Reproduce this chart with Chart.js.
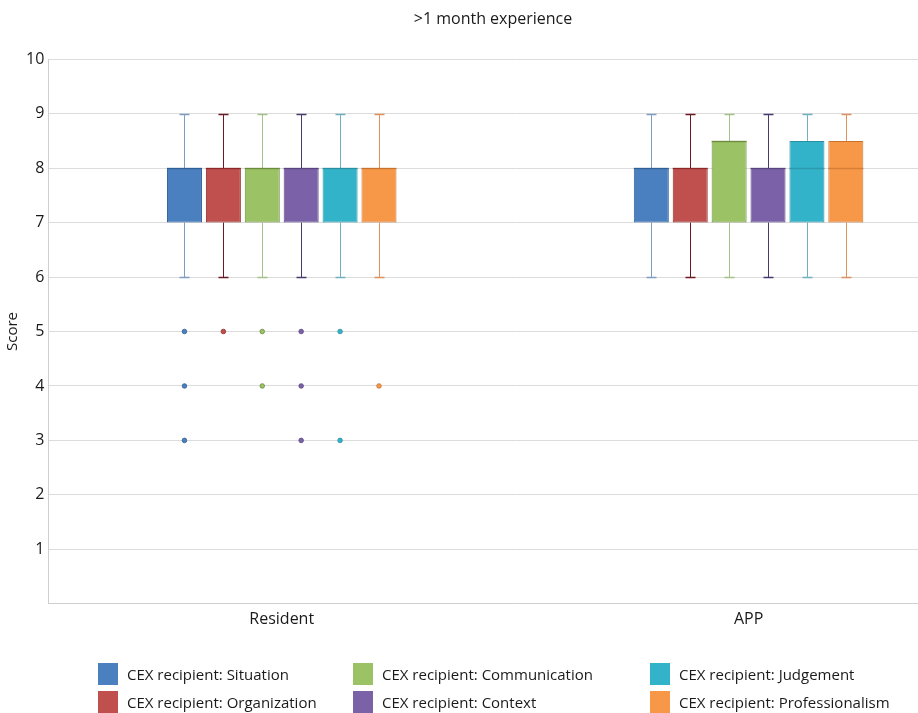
<!DOCTYPE html>
<html>
<head>
<meta charset="utf-8">
<script src="https://cdn.jsdelivr.net/npm/chart.js@4.4.1/dist/chart.umd.min.js"></script>
<style>
  html, body { margin: 0; padding: 0; background: #fff; overflow: hidden; }
  #wrap { position: relative; width: 918px; height: 713px; overflow: hidden; }
  #c { position: absolute; left: 0; top: 0; }
  .leg { position: absolute; font-family: "Open Sans", sans-serif; font-size: 15px; color: #1a1a1a; white-space: nowrap; }
  .leg span { position: absolute; left: 0; top: 0; width: 20px; height: 22px; }
  .leg b { font-weight: normal; position: absolute; left: 29px; top: 1px; }
</style>
</head>
<body>
<div id="wrap">
  <canvas id="c" width="985" height="713"></canvas>
  <div id="legend"></div>
</div>
<script>
const groups = ["Resident", "APP"];
const seriesNames = [
  "CEX recipient: Situation",
  "CEX recipient: Organization",
  "CEX recipient: Communication",
  "CEX recipient: Context",
  "CEX recipient: Judgement",
  "CEX recipient: Professionalism"
];
const fillColors = ["#4a7fc0", "#c0504d", "#9bc264", "#7b62a8", "#33b3c9", "#f79848"];
const edgeColors = ["#2f5f95", "#8c2a28", "#6b8c3c", "#5a4580", "#2a8fa3", "#c87230"];
const whiskerColors = ["#7e9dbf", "#6b1a22", "#a6c08a", "#4a3a6b", "#6fb0c0", "#e0905a"];

// per series: [Resident, APP]
const minVals = [[6, 6], [6, 6], [6, 6], [6, 6], [6, 6], [6, 6]];
const q1Vals = [[7, 7], [7, 7], [7, 7], [7, 7], [7, 7], [7, 7]];
const medVals = [[8, 8], [8, 8], [8, 8.5], [8, 8], [8, 8], [8, 8]];
const q3Vals = [[8, 8], [8, 8], [8, 8.5], [8, 8], [8, 8.5], [8, 8.5]];
const maxVals = [[9, 9], [9, 9], [9, 9], [9, 9], [9, 9], [9, 9]];
const outliers = [
  [[5, 4, 3], []],
  [[5], []],
  [[5, 4], []],
  [[5, 4, 3], []],
  [[5, 3], []],
  [[4], []]
];
const yTicks = [1, 2, 3, 4, 5, 6, 7, 8, 9, 10];

const datasets = seriesNames.map((name, s) => ({
  label: name,
  data: groups.map((g, i) => [q1Vals[s][i], q3Vals[s][i]]),
  backgroundColor: fillColors[s],
  borderColor: edgeColors[s],
  borderWidth: 1,
  borderSkipped: false,
  barPercentage: 0.9,
  categoryPercentage: 0.5
}));

const boxPlugin = {
  id: "boxParts",
  beforeDatasetsDraw(chart) {
    const ctx = chart.ctx;
    const y = chart.scales.y;
    chart.data.datasets.forEach((ds, s) => {
      const meta = chart.getDatasetMeta(s);
      meta.data.forEach((bar, i) => {
        const x = Math.round(bar.x) + 0.5;
        ctx.save();
        ctx.strokeStyle = whiskerColors[s];
        ctx.lineWidth = 1;
        const yMin = Math.round(y.getPixelForValue(minVals[s][i])) + 0.5;
        const yMax = Math.round(y.getPixelForValue(maxVals[s][i])) + 0.5;
        ctx.beginPath();
        ctx.moveTo(x, yMax); ctx.lineTo(x, y.getPixelForValue(q3Vals[s][i]));
        ctx.moveTo(x, yMin); ctx.lineTo(x, y.getPixelForValue(q1Vals[s][i]));
        ctx.stroke();
        ctx.lineWidth = 1.5;
        ctx.beginPath();
        ctx.moveTo(x - 5, yMax); ctx.lineTo(x + 5, yMax);
        ctx.moveTo(x - 5, yMin); ctx.lineTo(x + 5, yMin);
        ctx.stroke();
        ctx.restore();
      });
    });
  },
  afterDatasetsDraw(chart) {
    const ctx = chart.ctx;
    const y = chart.scales.y;
    chart.data.datasets.forEach((ds, s) => {
      const meta = chart.getDatasetMeta(s);
      meta.data.forEach((bar, i) => {
        ctx.save();
        const ym = Math.round(y.getPixelForValue(medVals[s][i])) + 0.5;
        ctx.strokeStyle = edgeColors[s];
        ctx.globalAlpha = 0.7;
        ctx.lineWidth = 1.5;
        ctx.beginPath();
        ctx.moveTo(bar.x - bar.width / 2, ym);
        ctx.lineTo(bar.x + bar.width / 2, ym);
        ctx.stroke();
        ctx.globalAlpha = 1;
        outliers[s][i].forEach(v => {
          ctx.beginPath();
          ctx.arc(bar.x, y.getPixelForValue(v), 2.3, 0, Math.PI * 2);
          ctx.fillStyle = fillColors[s];
          ctx.fill();
          ctx.lineWidth = 0.8;
          ctx.strokeStyle = edgeColors[s];
          ctx.stroke();
        });
        ctx.restore();
      });
    });
  }
};

new Chart(document.getElementById("c"), {
  type: "bar",
  data: { labels: groups, datasets: datasets },
  options: {
    responsive: false,
    animation: false,
    devicePixelRatio: 1,
    layout: { padding: { left: 4, right: 3, top: 0, bottom: 86 } },
    plugins: {
      legend: { display: false },
      tooltip: { enabled: false },
      title: {
        display: true,
        text: ">1 month experience",
        color: "#1a1a1a",
        font: { family: "Open Sans", size: 16, weight: "normal" },
        padding: { top: 10, bottom: 30 }
      }
    },
    scales: {
      x: {
        grid: { display: false },
        border: { color: "#cfcfcf" },
        ticks: { color: "#1a1a1a", font: { family: "Open Sans", size: 16 }, padding: -2 }
      },
      y: {
        min: 0,
        max: 10,
        afterBuildTicks(axis) { axis.ticks = [0].concat(yTicks).map(v => ({ value: v })); },
        ticks: {
          color: "#1a1a1a",
          font: { family: "Open Sans", size: 16 },
          padding: 4,
          callback: v => (v === 0 ? "" : v)
        },
        grid: { color: "#dcdcdc", drawTicks: false },
        border: { color: "#cfcfcf" },
        title: { display: true, text: "Score", color: "#1a1a1a", font: { family: "Open Sans", size: 15 }, padding: { top: 0, bottom: 0 } }
      }
    }
  },
  plugins: [boxPlugin]
});

const legPos = [[98, 663], [98, 691], [353, 663], [353, 691], [650, 663], [650, 691]];
const legend = document.getElementById("legend");
seriesNames.forEach((name, s) => {
  const d = document.createElement("div");
  d.className = "leg";
  d.style.left = legPos[s][0] + "px";
  d.style.top = legPos[s][1] + "px";
  d.innerHTML = '<span style="background:' + fillColors[s] + '"></span><b>' + name + "</b>";
  legend.appendChild(d);
});
</script>
</body>
</html>
